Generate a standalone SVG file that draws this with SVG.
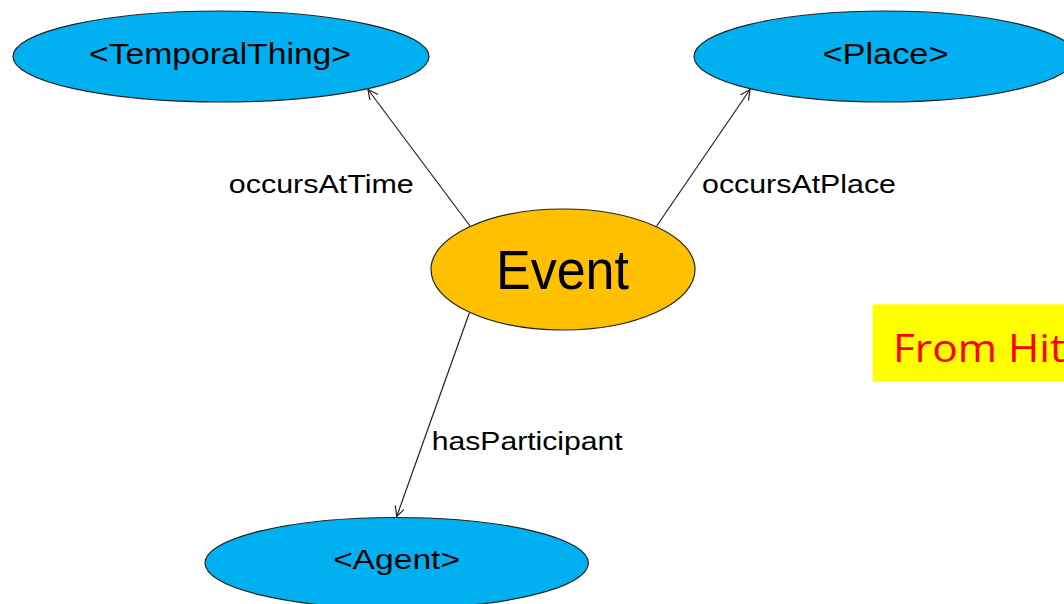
<svg xmlns="http://www.w3.org/2000/svg" width="1064" height="604" viewBox="0 0 1064 604">
  <style>
    .blue { fill: #00B0F0; stroke: #222; stroke-width: 1.2; }
    .orange { fill: #FFC000; stroke: #222; stroke-width: 1.2; }
    .lbl { font-family: "Liberation Sans", Arial, sans-serif; fill: #000; text-anchor: middle; }
    .edge { stroke: #222; stroke-width: 1.2; fill: none; marker-end: url(#arrow); }
  </style>
  <defs>
    <marker id="arrow" markerUnits="userSpaceOnUse" markerWidth="12" markerHeight="12" refX="10" refY="5" orient="auto">
      <path d="M0,0 L10,5 L0,10" fill="none" stroke="#222" stroke-width="1.2"/>
    </marker>
  </defs>
  <rect width="1064" height="604" fill="#FFFFFF"/>

  <g id="connectors">
    <line class="edge" x1="470" y1="226" x2="368" y2="89.5"/>
    <line class="edge" x1="656.7" y1="226" x2="750" y2="89.5"/>
    <line class="edge" x1="469.3" y1="313" x2="396.7" y2="516.5"/>
    <text class="lbl" x="321.3" y="193.3" font-size="25" textLength="185" lengthAdjust="spacingAndGlyphs">occursAtTime</text>
    <text class="lbl" x="799" y="193.3" font-size="25" textLength="194" lengthAdjust="spacingAndGlyphs">occursAtPlace</text>
    <text class="lbl" x="527.2" y="449.5" font-size="25" textLength="191" lengthAdjust="spacingAndGlyphs">hasParticipant</text>
  </g>

  <g id="temporalThing">
    <ellipse class="blue" cx="221" cy="56.5" rx="208" ry="45.5"/>
    <text class="lbl" x="220" y="63.5" font-size="30" textLength="262" lengthAdjust="spacingAndGlyphs">&lt;TemporalThing&gt;</text>
  </g>

  <g id="place">
    <ellipse class="blue" cx="885" cy="56.5" rx="191" ry="45.5"/>
    <text class="lbl" x="885.5" y="63.5" font-size="30" textLength="126" lengthAdjust="spacingAndGlyphs">&lt;Place&gt;</text>
  </g>

  <g id="event">
    <ellipse class="orange" cx="563" cy="269.5" rx="132" ry="60.5"/>
    <text class="lbl" x="562.5" y="289.3" font-size="55" textLength="133" lengthAdjust="spacingAndGlyphs">Event</text>
  </g>

  <g id="agent">
    <ellipse class="blue" cx="396.7" cy="563" rx="191.7" ry="45.5"/>
    <text class="lbl" x="396.5" y="568.5" font-size="27" textLength="127" lengthAdjust="spacingAndGlyphs">&lt;Agent&gt;</text>
  </g>

  <g id="note">
    <rect x="872.7" y="304.3" width="200" height="77.4" fill="#FFFF00"/>
    <text x="893" y="361.5" font-family="'Open Sans', 'Liberation Sans', sans-serif" font-size="39" fill="#FF0000" textLength="172" lengthAdjust="spacingAndGlyphs">From Hit</text>
  </g>
</svg>
